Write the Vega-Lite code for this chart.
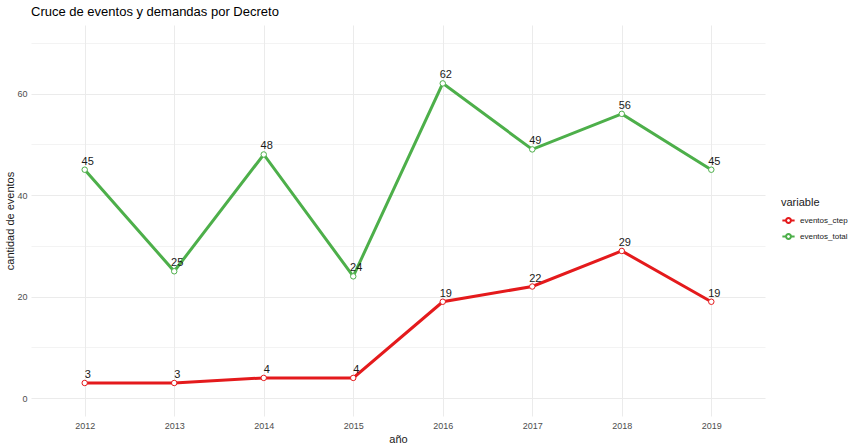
{
  "$schema": "https://vega.github.io/schema/vega-lite/v6.json",
  "width": 734,
  "height": 391,
  "autosize": {"type": "none"},
  "padding": {"left": 31, "top": 25, "right": 93, "bottom": 28},
  "background": "white",
  "title": {"text": "Cruce de eventos y demandas por Decreto", "anchor": "start", "frame": "group", "fontSize": 13, "fontWeight": "normal", "font": "Liberation Sans", "color": "#000000", "offset": 6},
  "data": {"values": [
    {"anio": "2012", "variable": "eventos_ctep", "valor": 3},
    {"anio": "2013", "variable": "eventos_ctep", "valor": 3},
    {"anio": "2014", "variable": "eventos_ctep", "valor": 4},
    {"anio": "2015", "variable": "eventos_ctep", "valor": 4},
    {"anio": "2016", "variable": "eventos_ctep", "valor": 19},
    {"anio": "2017", "variable": "eventos_ctep", "valor": 22},
    {"anio": "2018", "variable": "eventos_ctep", "valor": 29},
    {"anio": "2019", "variable": "eventos_ctep", "valor": 19},
    {"anio": "2012", "variable": "eventos_total", "valor": 45},
    {"anio": "2013", "variable": "eventos_total", "valor": 25},
    {"anio": "2014", "variable": "eventos_total", "valor": 48},
    {"anio": "2015", "variable": "eventos_total", "valor": 24},
    {"anio": "2016", "variable": "eventos_total", "valor": 62},
    {"anio": "2017", "variable": "eventos_total", "valor": 49},
    {"anio": "2018", "variable": "eventos_total", "valor": 56},
    {"anio": "2019", "variable": "eventos_total", "valor": 45}
  ]},
  "encoding": {
    "x": {"field": "anio", "type": "ordinal", "title": "año",
      "scale": {"type": "point", "padding": 0.6},
      "axis": {"grid": true, "labelAngle": 0, "ticks": false, "domain": false, "labelPadding": 5, "labelFontSize": 9, "labelColor": "#4D4D4D", "titleFontSize": 11, "titleFontWeight": "normal", "titleColor": "#1a1a1a", "titlePadding": 3, "gridColor": "#EBEBEB", "gridWidth": 1, "labelFont": "Liberation Sans", "titleFont": "Liberation Sans"}},
    "y": {"field": "valor", "type": "quantitative", "title": "cantidad de eventos",
      "scale": {"domain": [-3.5, 73.5], "nice": false, "zero": false},
      "axis": {"values": [0, 10, 20, 30, 40, 50, 60, 70], "labelExpr": "datum.value % 20 == 0 ? datum.label : ''", "ticks": false, "domain": false, "labelPadding": 4, "labelFontSize": 9, "labelColor": "#4D4D4D", "titleFontSize": 11, "titleFontWeight": "normal", "titleColor": "#1a1a1a", "titlePadding": 1, "gridColor": "#EBEBEB", "gridWidth": {"condition": {"test": "datum.value % 20 == 0", "value": 1}, "value": 0.6}, "labelFont": "Liberation Sans", "titleFont": "Liberation Sans"}},
    "color": {"field": "variable", "type": "nominal",
      "scale": {"domain": ["eventos_ctep", "eventos_total"], "range": ["#E41A1C", "#4DAF4A"]},
      "legend": {"orient": "none", "legendX": 750, "legendY": 172, "title": "variable", "titleFontSize": 11, "titleFontWeight": "normal", "titleColor": "#1a1a1a", "labelFontSize": 8, "labelColor": "#1a1a1a", "symbolType": "M-1,0L-0.4,0M0.4,0A0.4,0.4 0 1,1 -0.4,0A0.4,0.4 0 1,1 0.4,0M0.4,0L1,0", "symbolFillColor": "white", "symbolStrokeWidth": 2, "symbolSize": 150, "rowPadding": 2, "titleFont": "Liberation Sans", "labelFont": "Liberation Sans"}}
  },
  "layer": [
    {"mark": {"type": "line", "strokeWidth": 3}},
    {"mark": {"type": "point", "filled": false, "fill": "white", "size": 30, "strokeWidth": 1, "opacity": 1}},
    {"mark": {"type": "text", "dx": 3, "dy": -8, "fontSize": 11, "color": "#1a1a1a", "font": "Liberation Sans"},
      "encoding": {"text": {"field": "valor", "type": "quantitative"}, "color": {"value": "#1a1a1a"}}}
  ],
  "config": {"view": {"stroke": null}}
}
